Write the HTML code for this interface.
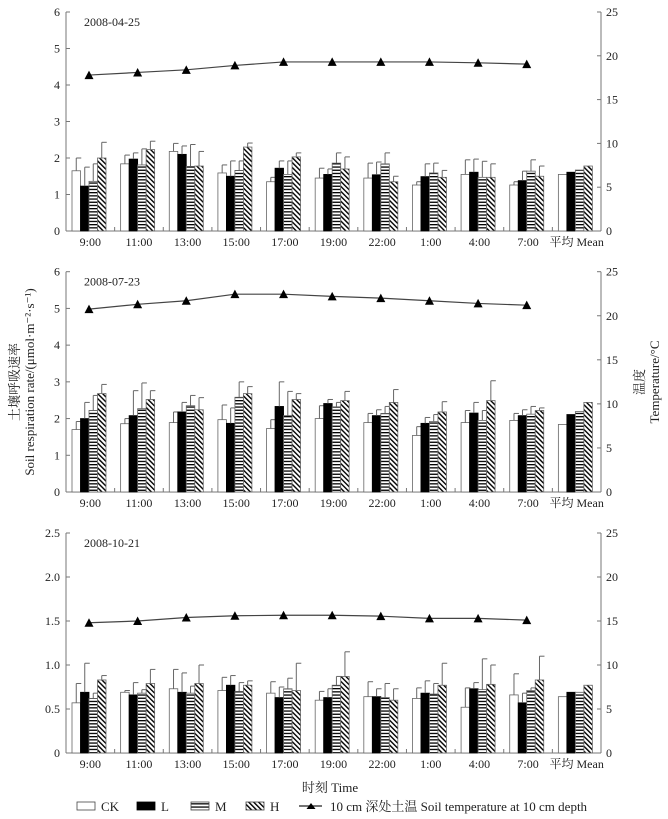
<!DOCTYPE html>
<html><head><meta charset="utf-8"><style>
html,body{margin:0;padding:0;background:#fff;}
svg{display:block;font-family:"Liberation Serif","Noto Serif CJK SC",serif;}
</style></head><body>
<svg id="chart" width="668" height="819" viewBox="0 0 668 819" xmlns="http://www.w3.org/2000/svg">
<defs>
<pattern id="pm" patternUnits="userSpaceOnUse" width="4" height="3.2"><rect width="4" height="3.2" fill="#fff"/><rect y="0" width="4" height="1.3" fill="#000"/></pattern>
<pattern id="ph" patternUnits="userSpaceOnUse" width="3.5" height="3.5" patternTransform="rotate(-45)"><rect width="3.5" height="3.5" fill="#fff"/><rect width="1.4" height="3.5" fill="#000"/></pattern>
</defs>
</svg>
<script>
const categories=["9:00","11:00","13:00","15:00","17:00","19:00","22:00","1:00","4:00","7:00","平均 Mean"];
const seriesNames=["CK","L","M","H"];
const p1CK=[1.65,1.84,2.18,1.59,1.35,1.45,1.45,1.26,1.55,1.26,1.55];
const p1L=[1.23,1.97,2.1,1.5,1.72,1.55,1.54,1.49,1.61,1.38,1.61];
const p1M=[1.36,1.81,1.77,1.66,1.55,1.86,1.84,1.59,1.47,1.64,1.67];
const p1H=[2.0,2.23,1.78,2.3,2.03,1.7,1.35,1.47,1.47,1.5,1.78];
const p1CKe=[2.0,2.08,2.4,1.81,1.47,1.72,1.86,1.35,1.95,1.35,null];
const p1Le=[1.75,2.14,2.33,1.92,1.92,1.7,1.89,1.84,1.97,1.64,null];
const p1Me=[1.84,2.25,2.37,1.92,1.92,2.14,2.14,1.86,1.91,1.95,null];
const p1He=[2.43,2.46,2.18,2.41,2.14,2.03,1.5,1.66,1.84,1.78,null];
const p1Temp=[17.8,18.1,18.4,18.9,19.3,19.3,19.3,19.3,19.2,19.05];
const p2CK=[1.7,1.86,1.89,1.97,1.73,2.0,1.89,1.54,1.89,1.95,1.84];
const p2L=[2.0,2.08,2.18,1.87,2.33,2.41,2.08,1.87,2.15,2.08,2.11];
const p2M=[2.22,2.27,2.35,2.58,2.08,2.32,2.14,1.92,1.95,2.12,2.19];
const p2H=[2.68,2.52,2.24,2.68,2.52,2.49,2.44,2.18,2.49,2.22,2.44];
const p2CKe=[1.92,2.0,2.18,2.37,1.97,2.35,2.14,1.78,2.22,2.14,null];
const p2Le=[2.44,2.76,2.44,2.29,3.0,2.52,2.24,2.03,2.44,2.24,null];
const p2Me=[2.63,2.97,2.63,3.0,2.74,2.44,2.33,2.11,2.22,2.33,null];
const p2He=[2.93,2.76,2.57,2.87,2.68,2.74,2.79,2.46,3.03,2.29,null];
const p2Temp=[20.75,21.3,21.7,22.45,22.45,22.2,22.0,21.7,21.4,21.2];
const p3CK=[0.57,0.69,0.73,0.71,0.68,0.6,0.64,0.62,0.52,0.66,0.64];
const p3L=[0.69,0.66,0.69,0.77,0.63,0.63,0.64,0.68,0.73,0.57,0.69];
const p3M=[0.62,0.68,0.68,0.70,0.73,0.77,0.63,0.67,0.72,0.71,0.69];
const p3H=[0.83,0.79,0.79,0.77,0.71,0.87,0.6,0.77,0.78,0.83,0.77];
const p3CKe=[0.79,0.71,0.95,0.86,0.81,0.70,0.81,0.74,0.74,0.9,null];
const p3Le=[1.02,0.80,0.91,0.88,0.75,0.73,0.73,0.82,0.80,0.68,null];
const p3Me=[0.68,0.72,0.76,0.80,0.85,0.87,0.79,0.79,1.07,0.74,null];
const p3He=[0.88,0.95,1.0,0.82,1.02,1.15,0.73,1.02,1.0,1.1,null];
const p3Temp=[14.8,15.0,15.4,15.6,15.65,15.65,15.55,15.3,15.3,15.1];
const p1Ticks=["0","1","2","3","4","5","6"];
const p3Ticks=["0","0.5","1.0","1.5","2.0","2.5"];
const rightTicks=["0","5","10","15","20","25"];

const svg=document.getElementById('chart');
const NS="http://www.w3.org/2000/svg";
function mk(tag,attrs,parent){const e=document.createElementNS(NS,tag);for(const k in attrs)e.setAttribute(k,attrs[k]);(parent||svg).appendChild(e);return e;}
const X0=66,X1=601,GW=(X1-X0)/categories.length,BW=8.5,BOFF=6;
const fills=["#fff","#000","url(#pm)","url(#ph)"];

function panel(idx,top,bot,ymax,ticks,data,errs,temp,date){
  const g=mk('g',{});
  
  
  const y=v=>bot-(v/ymax)*(bot-top);
  const yr=v=>bot-(v/25)*(bot-top);
  mk('line',{x1:X0,y1:top,x2:X0,y2:bot,stroke:'#777','stroke-width':1},g);
  mk('line',{x1:X1,y1:top,x2:X1,y2:bot,stroke:'#777','stroke-width':1},g);
  mk('line',{x1:X0,y1:bot,x2:X1,y2:bot,stroke:'#777','stroke-width':1},g);
  ticks.forEach(t=>{const v=parseFloat(t);const yy=y(v);
    mk('line',{x1:X0,y1:yy,x2:X0+4,y2:yy,stroke:'#777'},g);
    const tx=mk('text',{x:X0-6,y:yy+4,'text-anchor':'end','font-size':12,fill:'#222'},g);tx.textContent=t;
    
    });
  rightTicks.forEach(t=>{const yy=yr(parseFloat(t));
    mk('line',{x1:X1-4,y1:yy,x2:X1,y2:yy,stroke:'#777'},g);
    const tx=mk('text',{x:X1+5,y:yy+4,'font-size':12,fill:'#222'},g);tx.textContent=t;
    
    });
  for(let i=1;i<categories.length;i++){const xx=X0+i*GW;mk('line',{x1:xx,y1:bot,x2:xx,y2:bot-4,stroke:'#777'},g);}
  categories.forEach((c,i)=>{
    data.forEach((s,k)=>{
      const bx=X0+i*GW+BOFF+k*BW, by=y(s[i]);
      const r=mk('rect',{x:bx,y:by,width:BW,height:bot-by,fill:fills[k],stroke:k==1?'#000':'#666','stroke-width':0.8},g);
      
      
      const e=errs[k][i];
      if(e!=null){const cx=bx+BW/2,ey=y(e);
        mk('line',{x1:cx,y1:by,x2:cx,y2:ey,stroke:'#666','stroke-width':1},g);
        mk('line',{x1:cx,y1:ey,x2:cx+5,y2:ey,stroke:'#666','stroke-width':1},g);}
    });
    const lb=mk('text',{x:X0+i*GW+GW/2,y:bot+15,'text-anchor':'middle','font-size':12,fill:'#222'},g);lb.textContent=c;
    
    
  });
  const pts=temp.map((t,i)=>[X0+i*GW+BOFF+2*BW,yr(t)]);
  const pl=mk('polyline',{points:pts.map(p=>p.join(',')).join(' '),fill:'none',stroke:'#444','stroke-width':1.2},g);
  
  
  pts.forEach(p=>{const tri=mk('polygon',{points:`${p[0]-4.5},${p[1]+4} ${p[0]+4.5},${p[1]+4} ${p[0]},${p[1]-4.5}`,fill:'#000'},g);
    
    });
  const dt=mk('text',{x:84,y:top+14,'font-size':12,fill:'#222'},g);dt.textContent=date;
  
  
}
panel(1,12,231,6,p1Ticks,[p1CK,p1L,p1M,p1H],[p1CKe,p1Le,p1Me,p1He],p1Temp,"2008-04-25");
panel(2,271.7,492,6,p1Ticks,[p2CK,p2L,p2M,p2H],[p2CKe,p2Le,p2Me,p2He],p2Temp,"2008-07-23");
panel(3,533,753,2.5,p3Ticks,[p3CK,p3L,p3M,p3H],[p3CKe,p3Le,p3Me,p3He],p3Temp,"2008-10-21");

function txt(s,attrs,name){const t=mk('text',Object.assign({'font-size':13,fill:'#222'},attrs));t.textContent=s;
  
  return t;}
txt("土壤呼吸速率",{x:0,y:0,transform:'translate(19,382) rotate(-90)','text-anchor':'middle'},'y-axis-title-cn');
txt("Soil respiration rate/(μmol·m⁻²·s⁻¹)",{x:0,y:0,transform:'translate(34,382) rotate(-90)','text-anchor':'middle'},'y-axis-title-en');
txt("温度",{x:0,y:0,transform:'translate(644,382) rotate(-90)','text-anchor':'middle'},'y2-axis-title-cn');
txt("Temperature/°C",{x:0,y:0,transform:'translate(659,382) rotate(-90)','text-anchor':'middle'},'y2-axis-title-en');
txt("时刻 Time",{x:330,y:792,'text-anchor':'middle'},'x-axis-title');

const lg=mk('g',{});


const lx=[77,137,191,246];
seriesNames.forEach((n,k)=>{
  const r=mk('rect',{x:lx[k],y:802,width:18,height:8,fill:fills[k],stroke:k==1?'#000':'#444','stroke-width':0.8},lg);
  
  
  const t=mk('text',{x:lx[k]+24,y:811,'font-size':13,fill:'#222'},lg);t.textContent=n;
  
  
});
mk('line',{x1:299,y1:806,x2:322,y2:806,stroke:'#222','stroke-width':1.2},lg);
mk('polygon',{points:'306.5,809 315.5,809 311,803',fill:'#000'},lg);
const lt=mk('text',{x:330,y:811,'font-size':13,fill:'#222'},lg);lt.textContent="10 cm 深处土温 Soil temperature at 10 cm depth";


</script>
</body></html>
